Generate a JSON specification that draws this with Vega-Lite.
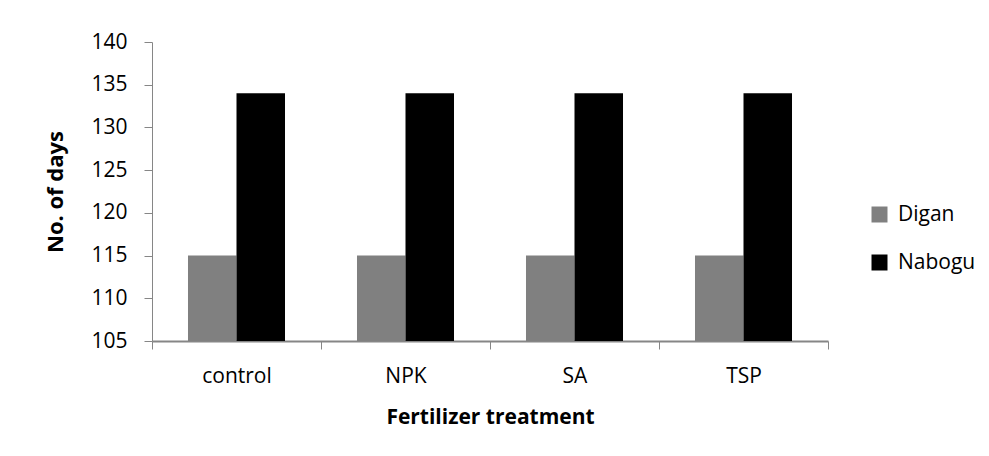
{
  "$schema": "https://vega.github.io/schema/vega-lite/v6.json",
  "autosize": {"type": "none"},
  "padding": {"left": 152, "top": 42, "right": 161, "bottom": 115},
  "width": 676,
  "height": 299,
  "background": "white",
  "config": {
    "font": "Open Sans",
    "view": {"stroke": null},
    "axis": {"labelFont": "Open Sans", "titleFont": "Open Sans"}
  },
  "data": {
    "values": [
      {"treatment": "control", "variety": "Digan", "days": 115},
      {"treatment": "control", "variety": "Nabogu", "days": 134},
      {"treatment": "NPK", "variety": "Digan", "days": 115},
      {"treatment": "NPK", "variety": "Nabogu", "days": 134},
      {"treatment": "SA", "variety": "Digan", "days": 115},
      {"treatment": "SA", "variety": "Nabogu", "days": 134},
      {"treatment": "TSP", "variety": "Digan", "days": 115},
      {"treatment": "TSP", "variety": "Nabogu", "days": 134}
    ]
  },
  "mark": {"type": "bar", "clip": true},
  "encoding": {
    "x": {
      "field": "treatment",
      "type": "nominal",
      "sort": ["control", "NPK", "SA", "TSP"],
      "scale": {"paddingInner": 0, "paddingOuter": 0},
      "axis": {
        "title": "Fertilizer treatment",
        "titleFontSize": 21,
        "titleFontWeight": "bold",
        "titleColor": "black",
        "titlePadding": 20,
        "labelFontSize": 21,
        "labelColor": "black",
        "labelAngle": 0,
        "labelPadding": 16,
        "tickBand": "extent",
        "tickSize": 8,
        "tickColor": "#868686",
        "domainColor": "#868686",
        "domainWidth": 2,
        "labelFontWeight": "normal"
      }
    },
    "xOffset": {
      "field": "variety",
      "type": "nominal",
      "sort": ["Digan", "Nabogu"],
      "scale": {"paddingInner": 0, "paddingOuter": 0.742}
    },
    "y": {
      "field": "days",
      "type": "quantitative",
      "scale": {"domain": [105, 140], "zero": false, "nice": false},
      "axis": {
        "title": "No. of days",
        "titleFontSize": 22,
        "titleFontWeight": "bold",
        "titleColor": "black",
        "titlePadding": 23,
        "values": [105, 110, 115, 120, 125, 130, 135, 140],
        "labelFontSize": 21,
        "labelColor": "black",
        "labelPadding": 17,
        "tickSize": 8,
        "tickColor": "#868686",
        "domainColor": "#868686",
        "grid": false
      }
    },
    "color": {
      "field": "variety",
      "type": "nominal",
      "sort": ["Digan", "Nabogu"],
      "scale": {"domain": ["Digan", "Nabogu"], "range": ["#808080", "#000000"]},
      "legend": {
        "title": null,
        "orient": "none",
        "legendX": 717,
        "legendY": 162,
        "symbolType": "square",
        "symbolSize": 256,
        "symbolStrokeWidth": 0,
        "labelFontSize": 21,
        "labelColor": "black",
        "labelOffset": 8,
        "rowPadding": 26
      }
    }
  }
}
